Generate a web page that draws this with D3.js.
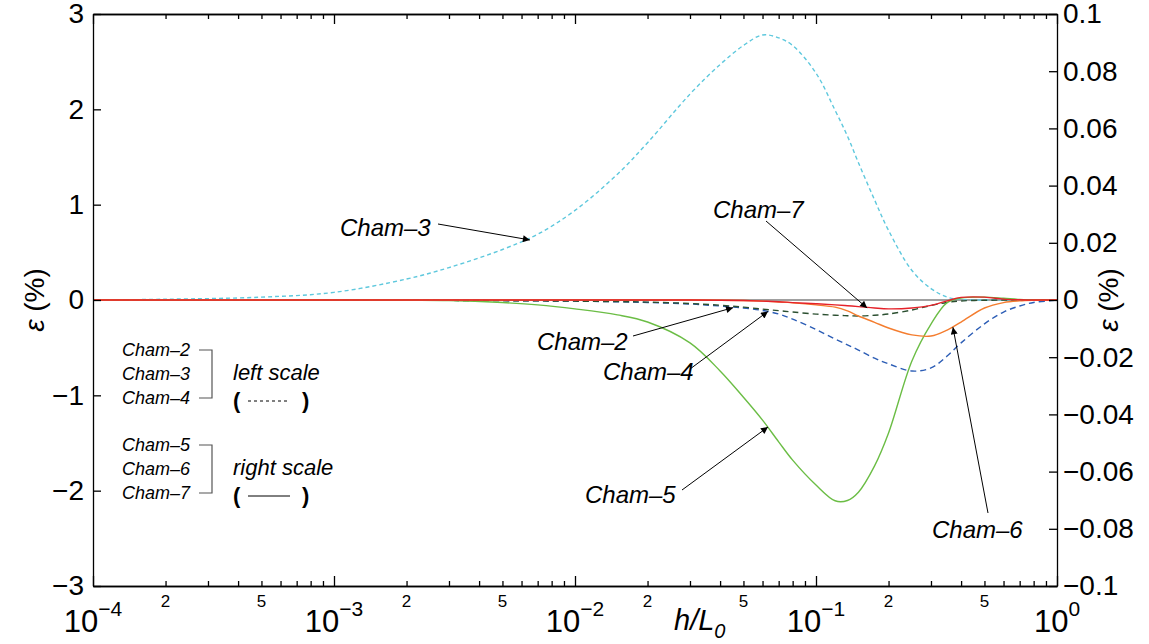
<!DOCTYPE html>
<html>
<head>
<meta charset="utf-8">
<script src="https://cdn.jsdelivr.net/npm/d3@7"></script>
<style>
  body { margin: 0; background: #fff; }
  svg { display: block; font-family: "Liberation Sans", Arial, sans-serif; }
  .axis path, .axis line { stroke: #000; stroke-width: 1.3; }
  .axis text { font-size: 28px; fill: #000; }
</style>
</head>
<body>
<div class="chart"></div>
<script>
// h/L0 sample points shared by all curves
const hL0 = [1e-4, 2e-4, 5e-4, 1e-3, 2e-3, 3e-3, 5e-3, 7e-3, 1e-2, 1.5e-2, 2e-2, 3e-2, 4e-2, 5e-2, 6e-2,
  7e-2, 8e-2, 0.1, 0.12, 0.135, 0.15, 0.175, 0.2, 0.25, 0.3, 0.35, 0.4, 0.5, 0.6, 0.7, 0.8, 1];

// left scale (dashed)
const cham2 = [0, 0, 0, 0, -0.002, -0.004, -0.007, -0.009, -0.012, -0.017, -0.022, -0.037, -0.055, -0.075, -0.095,
  -0.112, -0.126, -0.148, -0.16, -0.165, -0.168, -0.16, -0.147, -0.105, -0.058, -0.026, -0.01, -0.003, -0.001, 0, 0, 0];
const cham3 = [0, 0.008, 0.03, 0.08, 0.22, 0.34, 0.53, 0.69, 0.94, 1.32, 1.65, 2.16, 2.47, 2.67, 2.78,
  2.75, 2.67, 2.38, 1.99, 1.72, 1.44, 1.05, 0.73, 0.31, 0.12, 0.03, 0.005, 0, 0, 0, 0, 0];
const cham4 = [0, 0, 0, 0, -0.002, -0.004, -0.007, -0.009, -0.012, -0.019, -0.026, -0.042, -0.063, -0.084, -0.11,
  -0.147, -0.2, -0.31, -0.41, -0.47, -0.525, -0.61, -0.67, -0.745, -0.713, -0.588, -0.45, -0.25, -0.126, -0.063, -0.026, -0.003];

// right scale (solid)
const cham5 = [0, 0, 0, 0, -0.0001, -0.0002, -0.0009, -0.0017, -0.0031, -0.0052, -0.0077, -0.015, -0.0248, -0.034, -0.042,
  -0.0496, -0.056, -0.0647, -0.0702, -0.0701, -0.0672, -0.058, -0.0465, -0.0213, -0.0084, -0.0009, 0.0007, 0.001, 0.0006, 0.0002, 0.0001, 0];
const cham6 = [0, 0, 0, 0, 0, 0, 0, 0, 0, 0, 0, 0, -0.0001, -0.0002, -0.0004,
  -0.0007, -0.001, -0.0017, -0.0025, -0.0038, -0.0056, -0.0078, -0.0098, -0.0122, -0.0126, -0.0105, -0.0077, -0.0028, -0.0009, -0.0003, -0.0001, 0];
const cham7 = [0, 0, 0, 0, 0, 0, 0, 0, 0, 0, 0, 0, -0.0001, -0.0002, -0.0004,
  -0.0006, -0.0009, -0.0013, -0.0017, -0.002, -0.0023, -0.0028, -0.0031, -0.0028, -0.0019, -0.0003, 0.0009, 0.001, 0.0003, 0.0001, 0, 0];

const leftTicks = [-3, -2, -1, 0, 1, 2, 3];
const rightTicks = [-0.1, -0.08, -0.06, -0.04, -0.02, 0, 0.02, 0.04, 0.06, 0.08, 0.1];
const decades = [1e-4, 1e-3, 1e-2, 1e-1, 1];
const decadeExp = ['\u22124', '\u22123', '\u22122', '\u22121', '0'];

// arrow labels: name, tip h/L0, tip value, scale side
const annNames = ['Cham\u20133', 'Cham\u20137', 'Cham\u20132', 'Cham\u20134', 'Cham\u20135', 'Cham\u20136'];
const annTipX = [0.0065, 0.163, 0.0453, 0.0632, 0.0632, 0.37];
const annTipY = [0.63, -0.0028, -0.08, -0.12, -0.0444, -0.0095];
const annSide = ['L', 'R', 'L', 'L', 'R', 'R'];

const W = 1149, H = 644;
const margin = { top: 14, right: 92, bottom: 58, left: 93 };

const svg = d3.select('.chart').append('svg').attr('width', W).attr('height', H);

const x = d3.scaleLog().domain([1e-4, 1]).range([margin.left, W - margin.right]);
const yL = d3.scaleLinear().domain([-3, 3]).range([H - margin.bottom, margin.top]);
const yR = d3.scaleLinear().domain([-0.1, 0.1]).range([H - margin.bottom, margin.top]);

const minors = [];
decades.slice(0, -1).forEach(d => { for (let k = 2; k <= 9; k++) minors.push(d * k); });

// zero line
svg.append('line')
  .attr('x1', x(1e-4)).attr('x2', x(1))
  .attr('y1', yL(0)).attr('y2', yL(0))
  .attr('stroke', '#808080').attr('stroke-width', 1.6);

const series = [
  { v: cham3, s: yL, color: '#5ec8dd', dash: '4,3' },
  { v: cham4, s: yL, color: '#2c5db5', dash: '6,4' },
  { v: cham2, s: yL, color: '#2b4f30', dash: '6,4' },
  { v: cham5, s: yR, color: '#6bbd45', dash: null },
  { v: cham6, s: yR, color: '#f47d2f', dash: null },
  { v: cham7, s: yR, color: '#e5222a', dash: null }
];

series.forEach(sr => {
  const line = d3.line()
    .x((d, i) => x(hL0[i]))
    .y(d => sr.s(d))
    .curve(d3.curveCatmullRom.alpha(0.5));
  svg.append('path').datum(sr.v)
    .attr('d', line)
    .attr('fill', 'none')
    .attr('stroke', sr.color)
    .attr('stroke-width', 1.4)
    .attr('stroke-dasharray', sr.dash);
});

// axes
const yBot = H - margin.bottom, yTop = margin.top;
svg.append('g').attr('class', 'axis').attr('transform', `translate(0,${yBot})`)
  .call(d3.axisBottom(x).tickValues(decades).tickSize(-10).tickSizeOuter(0).tickFormat(''));
svg.append('g').attr('class', 'axis').attr('transform', `translate(0,${yBot})`)
  .call(d3.axisBottom(x).tickValues(minors).tickSize(-5).tickSizeOuter(0).tickFormat(''));
svg.append('g').attr('class', 'axis').attr('transform', `translate(0,${yTop})`)
  .call(d3.axisTop(x).tickValues(decades).tickSize(-10).tickSizeOuter(0).tickFormat(''));
svg.append('g').attr('class', 'axis').attr('transform', `translate(0,${yTop})`)
  .call(d3.axisTop(x).tickValues(minors).tickSize(-5).tickSizeOuter(0).tickFormat(''));

svg.append('g').attr('class', 'axis').attr('transform', `translate(${margin.left},0)`)
  .call(d3.axisLeft(yL).tickValues(leftTicks).tickSize(-8).tickSizeOuter(0).tickPadding(9)
    .tickFormat(d3.format('d')));
svg.append('g').attr('class', 'axis').attr('transform', `translate(${W - margin.right},0)`)
  .call(d3.axisRight(yR).tickValues(rightTicks).tickSize(-8).tickSizeOuter(0).tickPadding(6)
    .tickFormat(d3.format('~g')));

// x decade labels 10^n
decades.forEach((d, i) => {
  const t = svg.append('text')
    .attr('x', x(d)).attr('y', yBot + 46)
    .attr('text-anchor', 'middle')
    .style('font-size', '31px');
  t.append('tspan').text('10');
  t.append('tspan').attr('dy', -16).style('font-size', '21px').text(decadeExp[i]);
});

// minor labels 2 and 5
minors.forEach(m => {
  const k = Math.round(m / Math.pow(10, Math.floor(Math.log10(m) + 1e-9)));
  if (k !== 2 && k !== 5) return;
  svg.append('text')
    .attr('x', x(m)).attr('y', yBot + 21)
    .attr('text-anchor', 'middle')
    .style('font-size', '17px')
    .text(k);
});

// axis titles
const xt = svg.append('text')
  .attr('x', 674).attr('y', yBot + 44)
  .style('font-size', '29px').style('font-style', 'italic');
xt.append('tspan').text('h/L');
xt.append('tspan').attr('dy', 8).style('font-size', '20px').text('0');

svg.append('text')
  .attr('transform', `translate(44,${yL(0)}) rotate(-90)`)
  .attr('text-anchor', 'middle')
  .style('font-size', '28px')
  .html('<tspan font-style="italic">\u03b5</tspan> (%)');
svg.append('text')
  .attr('transform', `translate(1118,${yL(0)}) rotate(-90)`)
  .attr('text-anchor', 'middle')
  .style('font-size', '28px')
  .html('<tspan font-style="italic">\u03b5</tspan> (%)');

// arrow annotations
svg.append('defs').append('marker')
  .attr('id', 'arr').attr('viewBox', '0 0 10 10')
  .attr('refX', 10).attr('refY', 5)
  .attr('markerWidth', 9).attr('markerHeight', 7)
  .attr('markerUnits', 'userSpaceOnUse')
  .attr('orient', 'auto')
  .append('path').attr('d', 'M0,0L10,5L0,10z').attr('fill', '#000');

const annText = [[340, 236], [713, 218], [537, 350], [603, 380], [585, 503], [932, 538]];
const annStart = [[438, 224], [766, 221], [633, 336], [690, 369], [682, 490], [988, 513]];

annNames.forEach((n, i) => {
  const s = annSide[i] === 'L' ? yL : yR;
  svg.append('line')
    .attr('x1', annStart[i][0]).attr('y1', annStart[i][1])
    .attr('x2', x(annTipX[i])).attr('y2', s(annTipY[i]))
    .attr('stroke', '#000').attr('stroke-width', 1)
    .attr('marker-end', 'url(#arr)');
  svg.append('text')
    .attr('x', annText[i][0]).attr('y', annText[i][1])
    .style('font-size', '24px').style('font-style', 'italic')
    .text(n);
});

// legend
const legLeft = ['Cham\u20132', 'Cham\u20133', 'Cham\u20134'];
const legRight = ['Cham\u20135', 'Cham\u20136', 'Cham\u20137'];
function legendBlock(names, y0, title, dashed) {
  const g = svg.append('g');
  names.forEach((n, i) => {
    g.append('text')
      .attr('x', 190).attr('y', y0 + i * 24 + 6)
      .attr('text-anchor', 'end')
      .style('font-size', '18px').style('font-style', 'italic')
      .text(n);
  });
  g.append('path')
    .attr('d', `M199,${y0}H212V${y0 + 48}H199`)
    .attr('fill', 'none').attr('stroke', '#555').attr('stroke-width', 1.2);
  g.append('text')
    .attr('x', 233).attr('y', y0 + 30)
    .style('font-size', '22px').style('font-style', 'italic')
    .text(title);
  g.append('text').attr('x', 233).attr('y', y0 + 58)
    .style('font-size', '22px').style('font-weight', 'bold').text('(');
  g.append('text').attr('x', 302).attr('y', y0 + 58)
    .style('font-size', '22px').style('font-weight', 'bold').text(')');
  g.append('line')
    .attr('x1', 248).attr('x2', 290)
    .attr('y1', y0 + 51).attr('y2', y0 + 51)
    .attr('stroke', '#000').attr('stroke-width', 1)
    .attr('stroke-dasharray', dashed ? '3,3' : null);
}
legendBlock(legLeft, 350, 'left scale', true);
legendBlock(legRight, 445, 'right scale', false);
</script>
</body>
</html>
